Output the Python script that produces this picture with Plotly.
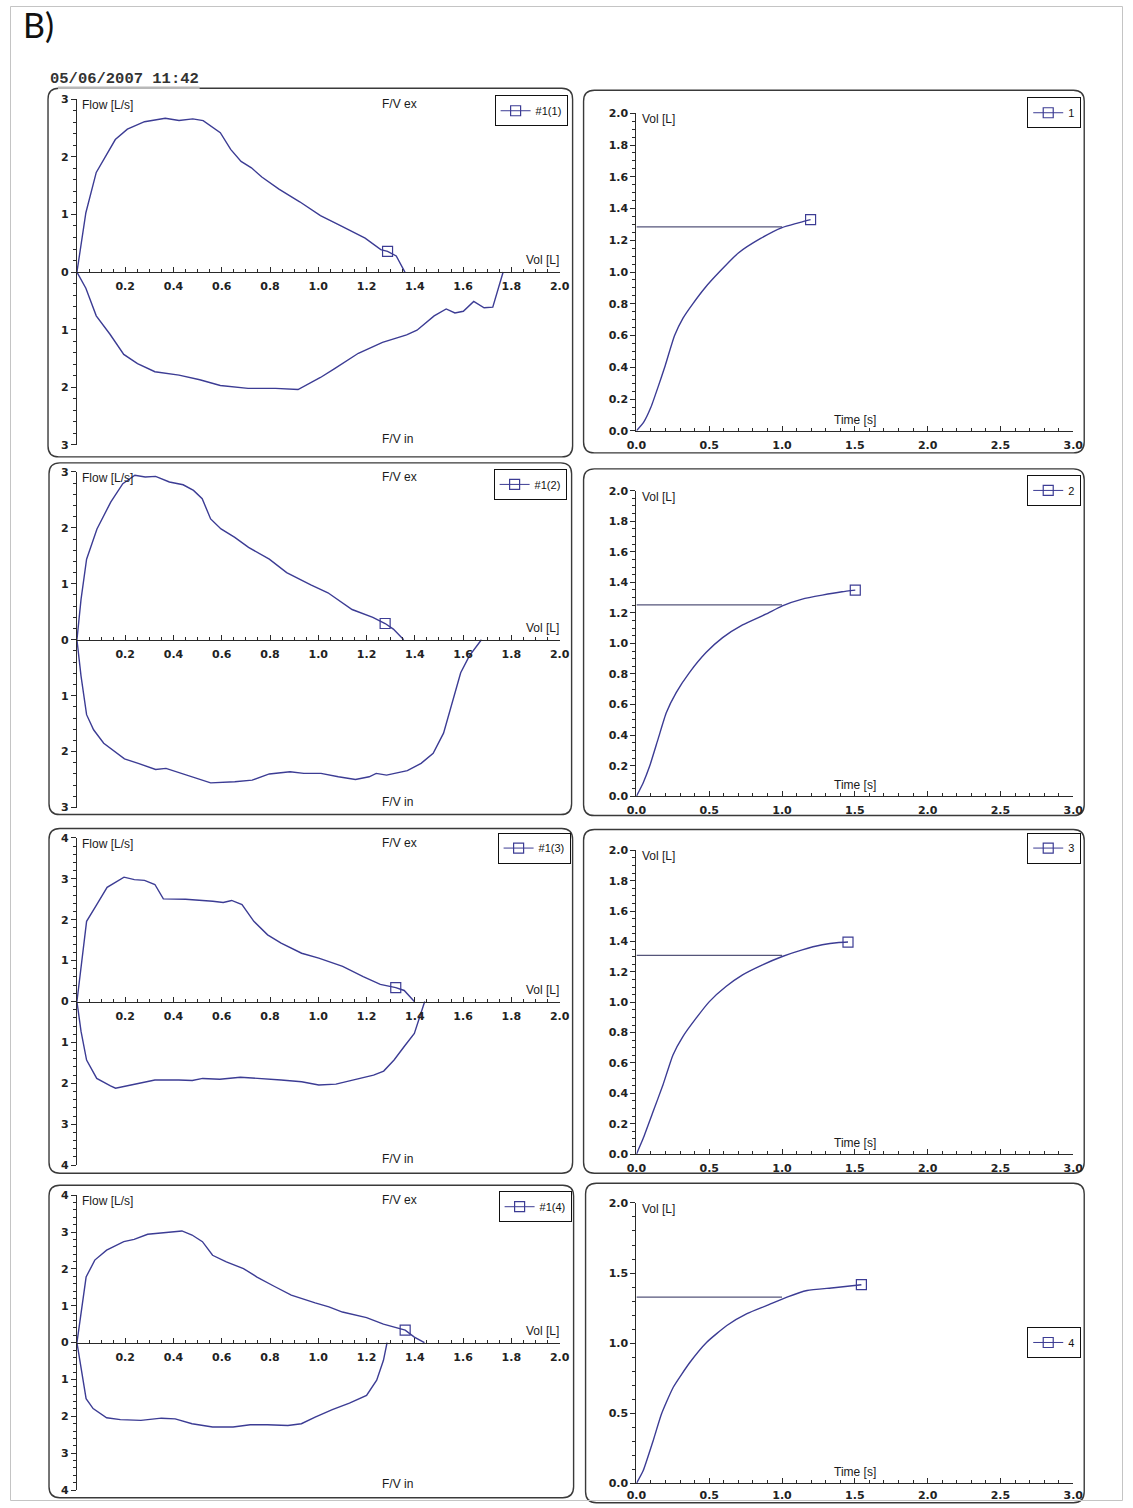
import plotly.graph_objects as go

W, H = 1133, 1508
# the page places the figure inside the default 8 px body margin, and the captured
# page area is slightly larger than the figure; positions below are given in final
# picture pixels and mapped back through these factors
BODY_MARGIN = 8
SX, SY = 0.985, 0.9896

# ---------------- flow-volume loops (Vol in L, Flow in L/s, inspiration < 0) ----------------
fv1_ex_vol = [0, 0.037, 0.08, 0.123, 0.159, 0.209, 0.28, 0.366, 0.423, 0.48, 0.523, 0.594, 0.637,
              0.68, 0.723, 0.766, 0.837, 0.923, 1.009, 1.094, 1.194, 1.259, 1.287, 1.323, 1.359]
fv1_ex_flow = [0, 1.03, 1.73, 2.05, 2.30, 2.48, 2.61, 2.67, 2.63, 2.66, 2.63, 2.42, 2.13,
               1.92, 1.81, 1.65, 1.44, 1.22, 0.98, 0.80, 0.59, 0.39, 0.36, 0.28, 0.0]
fv1_in_vol = [0, 0.037, 0.08, 0.137, 0.194, 0.251, 0.323, 0.423, 0.509, 0.594, 0.709, 0.823, 0.916,
              0.966, 1.009, 1.066, 1.166, 1.266, 1.366, 1.409, 1.48, 1.53, 1.566, 1.601, 1.644,
              1.687, 1.723, 1.766]
fv1_in_flow = [0, -0.28, -0.76, -1.08, -1.43, -1.59, -1.73, -1.79, -1.87, -1.97, -2.02, -2.02, -2.04,
               -1.93, -1.83, -1.68, -1.41, -1.22, -1.09, -1.01, -0.76, -0.64, -0.71, -0.68, -0.51,
               -0.62, -0.61, 0.0]

fv2_ex_vol = [0, 0.017, 0.04, 0.083, 0.14, 0.19, 0.24, 0.283, 0.326, 0.383, 0.44, 0.483, 0.519,
              0.554, 0.597, 0.654, 0.711, 0.797, 0.869, 0.969, 1.04, 1.14, 1.226, 1.277, 1.311, 1.354]
fv2_ex_flow = [0, 0.72, 1.44, 1.98, 2.46, 2.79, 2.94, 2.91, 2.92, 2.82, 2.77, 2.67, 2.52,
               2.16, 1.98, 1.83, 1.65, 1.44, 1.20, 0.98, 0.84, 0.54, 0.40, 0.29, 0.19, 0.0]
fv2_in_vol = [0, 0.017, 0.04, 0.069, 0.111, 0.197, 0.254, 0.326, 0.369, 0.454, 0.554, 0.654, 0.726,
              0.797, 0.883, 0.94, 1.011, 1.083, 1.154, 1.211, 1.24, 1.283, 1.369, 1.426, 1.476,
              1.519, 1.554, 1.59, 1.626, 1.676]
fv2_in_flow = [0, -0.65, -1.34, -1.61, -1.85, -2.13, -2.21, -2.32, -2.30, -2.42, -2.56, -2.54, -2.51,
               -2.40, -2.36, -2.39, -2.39, -2.45, -2.50, -2.45, -2.39, -2.42, -2.34, -2.21, -2.03,
               -1.67, -1.13, -0.59, -0.29, 0.0]

fv3_ex_vol = [0, 0.04, 0.082, 0.125, 0.195, 0.238, 0.28, 0.323, 0.358, 0.45, 0.563, 0.606, 0.641,
              0.684, 0.733, 0.79, 0.846, 0.931, 1.002, 1.101, 1.186, 1.257, 1.321, 1.356, 1.398]
fv3_ex_flow = [0, 1.96, 2.37, 2.79, 3.04, 2.98, 2.96, 2.86, 2.51, 2.50, 2.45, 2.42, 2.47,
               2.37, 1.96, 1.63, 1.43, 1.18, 1.06, 0.86, 0.61, 0.42, 0.34, 0.27, 0.0]
fv3_in_vol = [0, 0.017, 0.04, 0.082, 0.139, 0.16, 0.224, 0.28, 0.323, 0.422, 0.478, 0.521, 0.592,
              0.677, 0.761, 0.846, 0.931, 1.002, 1.073, 1.144, 1.229, 1.271, 1.314, 1.356, 1.398, 1.441]
fv3_in_flow = [0, -0.73, -1.43, -1.88, -2.06, -2.12, -2.04, -1.98, -1.92, -1.92, -1.93, -1.88, -1.90,
               -1.85, -1.88, -1.92, -1.96, -2.04, -2.02, -1.92, -1.80, -1.70, -1.43, -1.10, -0.78, 0.0]

fv4_ex_vol = [0, 0.038, 0.074, 0.123, 0.194, 0.237, 0.293, 0.35, 0.435, 0.477, 0.52, 0.562, 0.619,
              0.69, 0.746, 0.817, 0.888, 0.987, 1.044, 1.1, 1.2, 1.27, 1.327, 1.36, 1.398, 1.44]
fv4_ex_flow = [0, 1.78, 2.24, 2.51, 2.74, 2.80, 2.94, 2.98, 3.03, 2.92, 2.74, 2.37, 2.19,
               2.01, 1.78, 1.53, 1.29, 1.08, 0.97, 0.83, 0.68, 0.50, 0.41, 0.34, 0.15, 0.0]
fv4_in_vol = [0, 0.017, 0.038, 0.067, 0.123, 0.18, 0.265, 0.35, 0.407, 0.477, 0.562, 0.647, 0.718,
              0.789, 0.874, 0.93, 0.987, 1.058, 1.129, 1.2, 1.242, 1.27, 1.285]
fv4_in_flow = [0, -0.66, -1.52, -1.79, -2.04, -2.09, -2.11, -2.05, -2.07, -2.20, -2.29, -2.29, -2.23,
               -2.23, -2.25, -2.20, -2.02, -1.82, -1.64, -1.43, -1.02, -0.48, 0.0]

# end-of-test markers on the expiratory limb
fv_mark_vol = [1.287, 1.277, 1.321, 1.36]
fv_mark_flow = [0.36, 0.29, 0.34, 0.34]
fv_names = ["#1(1)", "#1(2)", "#1(3)", "#1(4)"]
fv_flow_limits = [3, 3, 4, 4]

# ---------------- volume-time curves (Time in s, Vol in L) ----------------
vt1_time = [0, 0.05, 0.1, 0.15, 0.194, 0.262, 0.32, 0.387, 0.47, 0.569, 0.7, 0.85, 1.0, 1.1, 1.196]
vt1_vol = [0, 0.055, 0.15, 0.28, 0.4, 0.6, 0.71, 0.8, 0.9, 1.0, 1.12, 1.21, 1.28, 1.307, 1.33]
vt2_time = [0, 0.046, 0.091, 0.148, 0.205, 0.273, 0.364, 0.478, 0.592, 0.729, 0.888, 1.002, 1.139,
            1.276, 1.412, 1.503]
vt2_vol = [0, 0.087, 0.197, 0.372, 0.546, 0.678, 0.809, 0.94, 1.038, 1.121, 1.191, 1.246, 1.29,
           1.316, 1.338, 1.349]
vt3_time = [0, 0.046, 0.114, 0.182, 0.251, 0.319, 0.41, 0.501, 0.615, 0.729, 0.866, 1.002, 1.139,
            1.276, 1.39, 1.453]
vt3_vol = [0, 0.103, 0.279, 0.455, 0.653, 0.774, 0.895, 1.004, 1.103, 1.18, 1.246, 1.301, 1.345,
           1.378, 1.393, 1.396]
vt4_time = [0, 0.046, 0.115, 0.172, 0.253, 0.368, 0.483, 0.621, 0.759, 0.897, 1.034, 1.172, 1.356, 1.545]
vt4_vol = [0, 0.09, 0.305, 0.495, 0.686, 0.864, 1.007, 1.126, 1.21, 1.269, 1.329, 1.376, 1.395, 1.417]

fev1_time = 1.0
fev1_vol = [1.284, 1.252, 1.308, 1.329]
vt_names = ["1", "2", "3", "4"]

fv_ex = [(fv1_ex_vol, fv1_ex_flow), (fv2_ex_vol, fv2_ex_flow), (fv3_ex_vol, fv3_ex_flow), (fv4_ex_vol, fv4_ex_flow)]
fv_in = [(fv1_in_vol, fv1_in_flow), (fv2_in_vol, fv2_in_flow), (fv3_in_vol, fv3_in_flow), (fv4_in_vol, fv4_in_flow)]
vt = [(vt1_time, vt1_vol), (vt2_time, vt2_vol), (vt3_time, vt3_vol), (vt4_time, vt4_vol)]


# ---------------- geometry (picture pixels -> paper fractions) ----------------
def px(x):
    return (x / SX - BODY_MARGIN) / W


def py(y):
    return 1 - (y / SY - BODY_MARGIN) / H


LEFT_X = (75, 559)      # Vol 0 .. 2.0
RIGHT_X = (636, 1074)   # Time 0 .. 3.0
left_rows = [(101, 273.5, 446), (473, 640.5, 808), (838.3, 1001.7, 1165), (1195, 1342.2, 1489.3)]
right_rows = [(115, 432), (491.7, 796.7), (850.7, 1154), (1202.7, 1482.7)]
left_boxes = [(46, 90, 572, 458), (47, 464, 571, 815), (47, 829, 572, 1173), (47, 1185, 573, 1497)]
right_boxes = [(583, 92, 1085, 454), (583, 470, 1085, 816), (583, 830, 1085, 1173), (585, 1183, 1085, 1502)]
left_legend_pos = [(567, 97), (566, 470), (570, 833), (571, 1191)]
right_legend_pos = [(1082, 99, "top"), (1082, 476, "top"), (1082, 833, "top"), (1082, 1342, "middle")]

CURVE = "#3c3c94"
AXIS = "#2a2a2a"
TICKFONT = dict(family="DejaVu Sans", size=11, color="#222", weight="bold")
LABELFONT = dict(family="Liberation Sans", size=12, color="#1a1a1a")

fig = go.Figure()
layout = dict(
    width=W, height=H, margin=dict(l=0, r=0, t=0, b=0),
    paper_bgcolor="white", plot_bgcolor="rgba(0,0,0,0)",
    font=dict(family="DejaVu Sans", color="#222"),
    showlegend=True,
)
annotations = []
shapes = []


def rounded_box(x0, y0, x1, y1, r=11):
    rx, ry = r / W, r / H
    X0, X1, Y0, Y1 = px(x0), px(x1), py(y0), py(y1)
    return (f"M{X0 + rx},{Y0} L{X1 - rx},{Y0} Q{X1},{Y0} {X1},{Y0 - ry} "
            f"L{X1},{Y1 + ry} Q{X1},{Y1} {X1 - rx},{Y1} L{X0 + rx},{Y1} "
            f"Q{X0},{Y1} {X0},{Y1 + ry} L{X0},{Y0 - ry} Q{X0},{Y0} {X0 + rx},{Y0} Z")


def legend_style(x, y, yanchor):
    return dict(x=px(x), y=py(y), xanchor="right", yanchor=yanchor, xref="paper", yref="paper",
                bgcolor="white", bordercolor="#111", borderwidth=1, itemwidth=30,
                font=dict(family="Liberation Sans", size=11, color="#111"),
                itemclick=False, itemdoubleclick=False)


for i in range(4):
    # ---------- flow-volume subplot ----------
    xa = 2 * i + 1
    xname = "xaxis" if xa == 1 else f"xaxis{xa}"
    yname = "yaxis" if xa == 1 else f"yaxis{xa}"
    xref = "x" if xa == 1 else f"x{xa}"
    yref = "y" if xa == 1 else f"y{xa}"
    top, zero, bot = left_rows[i]
    lim = fv_flow_limits[i]
    vals = list(range(-lim, lim + 1))
    layout[xname] = dict(
        domain=[px(LEFT_X[0]), px(LEFT_X[1])], range=[0, 2.0], anchor="free", position=py(zero),
        showline=True, linecolor=AXIS, linewidth=1, showgrid=False, zeroline=False,
        ticks="inside", ticklen=5, tickcolor=AXIS, tickwidth=1,
        tickmode="array", tickvals=[0.2 * k for k in range(1, 11)],
        ticktext=[f"{0.2 * k:.1f}" for k in range(1, 11)],
        minor=dict(dtick=0.05, tick0=0, ticks="inside", ticklen=3, tickcolor=AXIS),
        tickfont=TICKFONT, ticklabelstandoff=4, fixedrange=True,
    )
    layout[yname] = dict(
        domain=[py(bot), py(top)], range=[-lim, lim], anchor=xref,
        showline=True, linecolor=AXIS, linewidth=1, showgrid=False, zeroline=False,
        ticks="outside", ticklen=5, tickcolor=AXIS,
        tickmode="array", tickvals=vals, ticktext=[str(abs(v)) for v in vals],
        minor=dict(dtick=0.2, tick0=0, ticks="outside", ticklen=3, tickcolor=AXIS),
        tickfont=TICKFONT, fixedrange=True,
    )
    lg = "legend" if i == 0 else f"legend{2 * i + 1}"
    ex_v, ex_f = fv_ex[i]
    in_v, in_f = fv_in[i]
    fig.add_trace(go.Scatter(x=ex_v, y=ex_f, mode="lines", line=dict(color=CURVE, width=1.4),
                             xaxis=xref, yaxis=yref, showlegend=False, hoverinfo="skip"))
    fig.add_trace(go.Scatter(x=in_v, y=in_f, mode="lines", line=dict(color=CURVE, width=1.4),
                             xaxis=xref, yaxis=yref, showlegend=False, hoverinfo="skip"))
    fig.add_trace(go.Scatter(x=[fv_mark_vol[i]], y=[fv_mark_flow[i]], mode="lines+markers",
                             name=fv_names[i], legend=lg,
                             line=dict(color=CURVE, width=1),
                             marker=dict(symbol="square-open", size=10, color=CURVE, line=dict(width=1.2)),
                             xaxis=xref, yaxis=yref, hoverinfo="skip"))
    lx, ly = left_legend_pos[i]
    layout[lg] = legend_style(lx, ly, "top")
    annotations += [
        dict(x=px(LEFT_X[0] + 3), y=py(top + 6), text="Flow [L/s]", xanchor="left", yanchor="middle"),
        dict(x=px(398), y=py(top + 5), text="F/V ex", xanchor="center", yanchor="middle"),
        dict(x=px(LEFT_X[1] + 1), y=py(zero - 12), text="Vol [L]", xanchor="right", yanchor="middle"),
        dict(x=px(396), y=py(bot - 6), text="F/V in", xanchor="center", yanchor="middle"),
    ]
    shapes.append(dict(type="path", xref="paper", yref="paper", path=rounded_box(*left_boxes[i]),
                       line=dict(color="#3a3a3a", width=1.4), layer="below"))

    # ---------- volume-time subplot ----------
    xa = 2 * i + 2
    xname, yname = f"xaxis{xa}", f"yaxis{xa}"
    xref, yref = f"x{xa}", f"y{xa}"
    ttop, tzero = right_rows[i]
    ydt, yminor = (0.5, 0.1) if i == 3 else (0.2, 0.05)
    layout[xname] = dict(
        domain=[px(RIGHT_X[0]), px(RIGHT_X[1])], range=[0, 3.0], anchor=yref,
        showline=True, linecolor=AXIS, linewidth=1, showgrid=False, zeroline=False,
        ticks="inside", ticklen=5, tickcolor=AXIS, dtick=0.5, tick0=0, tickformat=".1f",
        minor=dict(dtick=0.1, tick0=0, ticks="inside", ticklen=3, tickcolor=AXIS),
        tickfont=TICKFONT, ticklabelstandoff=1 if i == 3 else 4, fixedrange=True,
    )
    layout[yname] = dict(
        domain=[py(tzero), py(ttop)], range=[0, 2.0], anchor=xref,
        showline=True, linecolor=AXIS, linewidth=1, showgrid=False, zeroline=False,
        ticks="outside", ticklen=5, tickcolor=AXIS, dtick=ydt, tick0=0, tickformat=".1f",
        minor=dict(dtick=yminor, tick0=0, ticks="outside", ticklen=3, tickcolor=AXIS),
        tickfont=TICKFONT, fixedrange=True,
    )
    lg = f"legend{2 * i + 2}"
    t, v = vt[i]
    fig.add_trace(go.Scatter(x=[0, fev1_time], y=[fev1_vol[i], fev1_vol[i]], mode="lines",
                             line=dict(color="#55557a", width=1.3),
                             xaxis=xref, yaxis=yref, showlegend=False, hoverinfo="skip"))
    fig.add_trace(go.Scatter(x=t, y=v, mode="lines",
                             line=dict(color=CURVE, width=1.4, shape="spline", smoothing=0.5),
                             xaxis=xref, yaxis=yref, showlegend=False, hoverinfo="skip"))
    fig.add_trace(go.Scatter(x=[t[-1]], y=[v[-1]], mode="lines+markers", name=vt_names[i], legend=lg,
                             line=dict(color=CURVE, width=1),
                             marker=dict(symbol="square-open", size=10, color=CURVE, line=dict(width=1.2)),
                             xaxis=xref, yaxis=yref, hoverinfo="skip"))
    rx, ry, ranchor = right_legend_pos[i]
    layout[lg] = legend_style(rx, ry, ranchor)
    annotations += [
        dict(x=px(RIGHT_X[0] + 4), y=py(ttop + 6), text="Vol [L]", xanchor="left", yanchor="middle"),
        dict(x=px(855), y=py(tzero - 11), text="Time [s]", xanchor="center", yanchor="middle"),
    ]
    shapes.append(dict(type="path", xref="paper", yref="paper", path=rounded_box(*right_boxes[i]),
                       line=dict(color="#3a3a3a", width=1.4), layer="below"))

for a in annotations:
    a.update(xref="paper", yref="paper", showarrow=False, font=LABELFONT)

# header: panel tag, timestamp with its underline, outer frame at the figure edge
annotations.append(dict(x=px(19), y=py(26), xref="paper", yref="paper", text="B)", showarrow=False,
                        xanchor="left", yanchor="middle",
                        font=dict(family="Lato", size=34, color="#111")))
annotations.append(dict(x=px(46), y=py(81), xref="paper", yref="paper", text="05/06/2007 11:42",
                        showarrow=False, xanchor="left", yanchor="middle",
                        font=dict(family="Liberation Mono", size=15.5, color="#333", weight="bold")))
shapes.append(dict(type="line", xref="paper", yref="paper", x0=px(56), x1=px(198), y0=py(89.5), y1=py(89.5),
                   line=dict(color="#b8b8b8", width=2.5)))
shapes.append(dict(type="rect", xref="paper", yref="paper", x0=0.5 / W, x1=1 - 0.5 / W,
                   y0=0.5 / H, y1=1 - 0.5 / H,
                   line=dict(color="#c4c4c4", width=1), layer="below"))

layout["annotations"] = annotations
layout["shapes"] = shapes
fig.update_layout(**layout)
fig.write_html("out.html")
